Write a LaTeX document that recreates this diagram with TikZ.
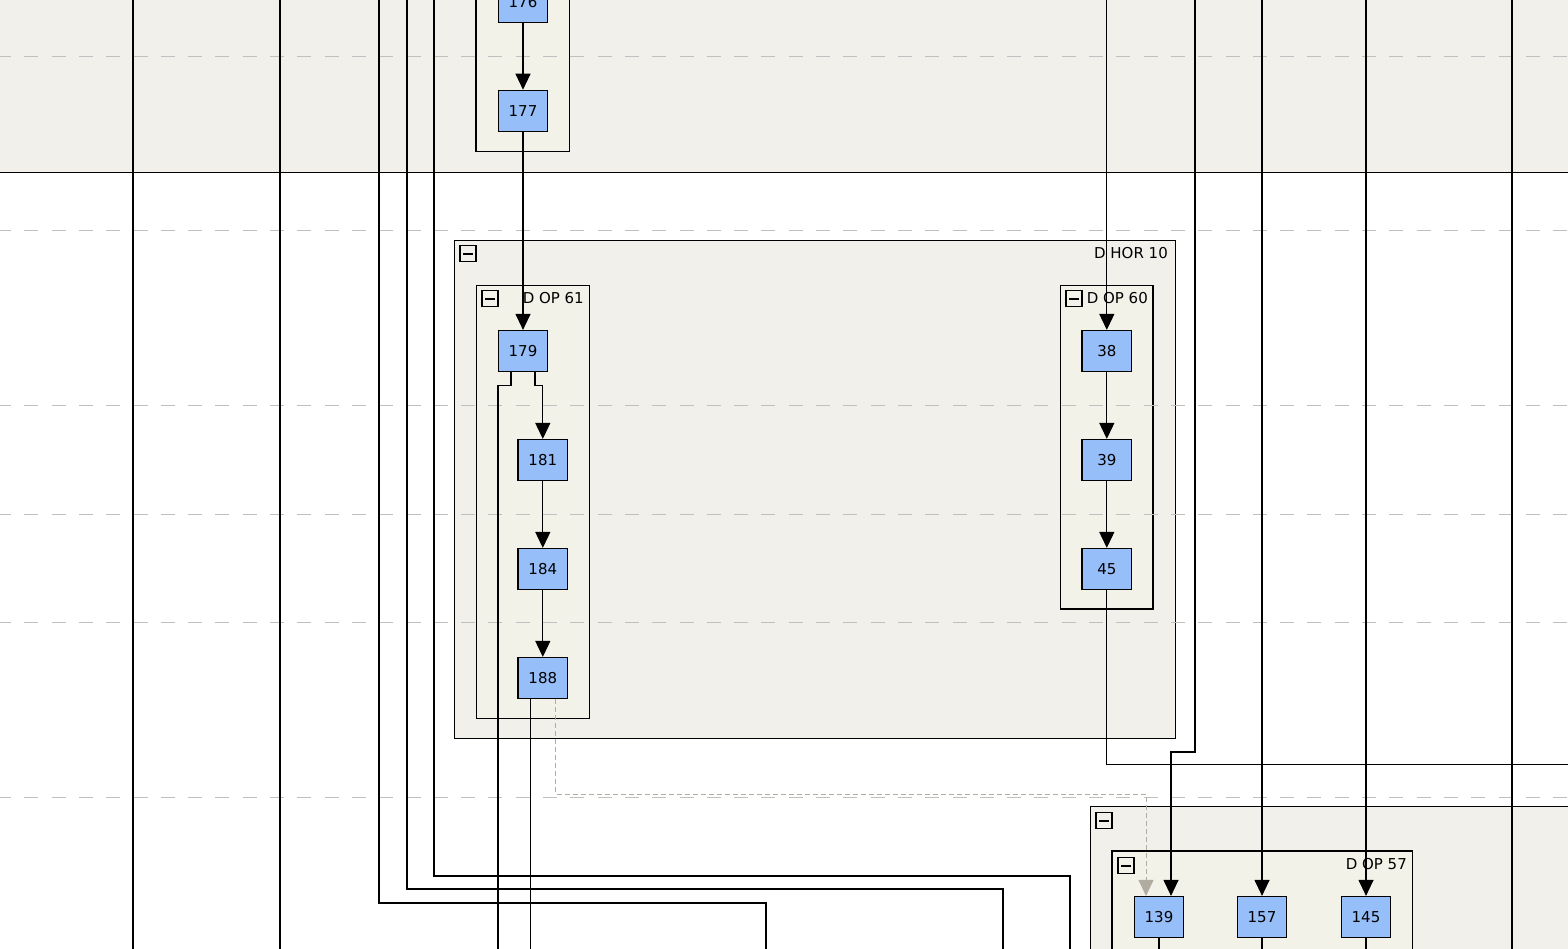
\documentclass[tikz,border=0pt]{standalone}
\usepackage{fontspec}
\setmainfont{DejaVu Sans}
\usetikzlibrary{arrows.meta,calc}
\definecolor{bandfill}{RGB}{241,240,235}
\definecolor{innerfill}{RGB}{242,242,232}
\definecolor{nodeblue}{RGB}{150,190,248}
\definecolor{gridgrey}{RGB}{192,192,192}
\definecolor{depgrey}{RGB}{176,172,160}
\begin{document}
\begin{tikzpicture}[x=1pt,y=-1pt,
  line/.style={line width=1.2pt, draw=black},
  arr/.style={line, -{Triangle[width=15pt,length=16pt]}},
  dep/.style={draw=depgrey, line width=1pt, dash pattern=on 5pt off 3pt, -{Triangle[width=15pt,length=16pt,fill=depgrey]}},
  task/.style={draw=black, line width=1.2pt, fill=nodeblue, minimum width=49.5pt, minimum height=41pt, inner sep=0pt, font=\fontsize{15}{18}\selectfont},
  outerbox/.style={draw=black, line width=1.2pt, fill=bandfill, inner sep=0pt},
  innerbox/.style={draw=black, line width=1.2pt, fill=innerfill, inner sep=0pt},
  lbl/.style={font=\fontsize{15}{18}\selectfont, inner sep=0pt, anchor=east},
  mbox/.style={draw=black, line width=1.4pt, minimum size=16pt, inner sep=0pt,
    path picture={\draw[line width=2pt] ([xshift=-5pt]path picture bounding box.center) -- ([xshift=5pt]path picture bounding box.center);}},
  gridline/.style={draw=gridgrey, line width=1pt, dash pattern=on 14pt off 13.3pt}
]
\useasboundingbox (0,0) rectangle (1568,948);
\clip (0,0) rectangle (1568,948);
\fill[white] (0,0) rectangle (1568,948);

% containers
\node[outerbox, minimum width=1590pt, minimum height=182.3pt] (band) at (785,81.15) {};
\node[innerbox, minimum width=93.5pt, minimum height=171.5pt] (topop) at (522.75,65.75) {};
\node[outerbox, minimum width=720.8pt, minimum height=497.6pt] (hor10) at (814.9,489.5) {};
\node[innerbox, minimum width=113.4pt, minimum height=432.8pt] (op61) at (533,501.9) {};
\node[innerbox, minimum width=92.5pt, minimum height=323.5pt] (op60) at (1106.75,447.25) {};
\node[outerbox, minimum width=509.7pt, minimum height=193.7pt] (brouter) at (1345.15,903.15) {};
\node[innerbox, minimum width=300.7pt, minimum height=149pt] (op57) at (1262.35,925.5) {};

% grid lines
\foreach \gy in {56.3,230,405,514.3,622.3,797.3}
  \draw[gridline] (-3,\gy) -- (1568,\gy);

% icons and labels
\node[mbox, fill=bandfill] (m10) at (468,253.5) {};
\node[mbox, fill=innerfill] (m61) at (490,298.5) {};
\node[mbox, fill=innerfill] (m60) at (1074,298.5) {};
\node[mbox, fill=bandfill] (mbr) at (1104,820.5) {};
\node[mbox, fill=innerfill] (m57) at (1126,865.5) {};
\node[lbl] (l10) at (1168,253.5) {D HOR 10};
\node[lbl] (l61) at (584,298.5) {D OP 61};
\node[lbl] (l60) at (1148,298.5) {D OP 60};
\node[lbl] (l57) at (1407,864.5) {D OP 57};

% tasks
\node[task] (n176) at (523,2.2) {176};
\node[task] (n177) at (523,110.8) {177};
\node[task] (n179) at (523,351) {179};
\node[task] (n181) at (542.8,460) {181};
\node[task] (n184) at (542.8,569) {184};
\node[task] (n188) at (542.8,678) {188};
\node[task] (n38) at (1106.8,351) {38};
\node[task] (n39) at (1106.8,460) {39};
\node[task] (n45) at (1106.8,569) {45};
\node[task] (n139) at (1159,917) {139};
\node[task] (n157) at (1262,917) {157};
\node[task] (n145) at (1366,917) {145};

% free ends
\coordinate (top) at (0,-5);
\coordinate (bot) at (0,953);
\coordinate (t133) at (133,-5);   \coordinate (b133) at (133,953);
\coordinate (t280) at (280,-5);   \coordinate (b280) at (280,953);
\coordinate (t379) at (379,-5);   \coordinate (b766) at (766,953);
\coordinate (t407) at (407,-5);   \coordinate (b1003) at (1003,953);
\coordinate (t434) at (434,-5);   \coordinate (b1070) at (1070,953);
\coordinate (t1195) at (1195,-5);
\coordinate (t1512) at (1512,-5); \coordinate (b1512) at (1512,953);
\coordinate (b498) at (498,953);
\coordinate (r765) at (1573,764.5);

% pass-through lines
\draw[line] (t133) -- (b133);
\draw[line] (t280) -- (b280);
\draw[line] (t1512) -- (b1512);
\draw[line] (t379) -- ++(0,908) -| (b766);
\draw[line] (t407) -- ++(0,894) -| (b1003);
\draw[line] (t434) -- ++(0,881) -| (b1070);

% edges
\draw[arr] (n176) -- (n177);
\draw[arr] (n177) -- (n179);
\draw[arr] ([xshift=12pt]n179.south) -- ++(0,13) -| (n181.north);
\draw[line] ([xshift=-12pt]n179.south) -- ++(0,13) -| (b498);
\draw[arr] (n181) -- (n184);
\draw[arr] (n184) -- (n188);
\draw[line] ([xshift=-12pt]n188.south) -- ([xshift=-12pt]n188.south |- bot);
\draw[dep] ([xshift=13pt]n188.south) -- ++(0,95) -| ([xshift=-13pt]n139.north);
\draw[arr] (n38.north |- top) -- (n38);
\draw[arr] (n38) -- (n39);
\draw[arr] (n39) -- (n45);
\draw[line] (n45.south) |- (r765);
\draw[arr] (t1195) -- ++(0,757) -| ([xshift=12pt]n139.north);
\draw[arr] (n157.north |- top) -- (n157);
\draw[arr] (n145.north |- top) -- (n145);
\draw[line] (n139.south) -- (n139.south |- bot);
\draw[line] (n157.south) -- (n157.south |- bot);
\draw[line] (n145.south) -- (n145.south |- bot);
\end{tikzpicture}
\end{document}
